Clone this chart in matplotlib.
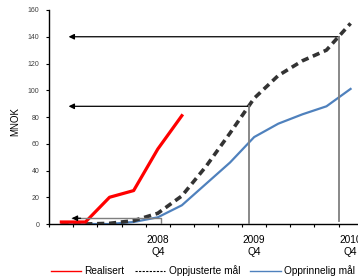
import matplotlib
matplotlib.use('Agg')
from matplotlib import pyplot as plt
from matplotlib.lines import Line2D

plt.rcParams['font.family'] = ['Liberation Sans', 'DejaVu Sans']

# === DATI ===
# quarters from 2007 Q4 to 2010 Q4 (one category per quarter)
quarters = ['2007 Q4', '2008 Q1', '2008 Q2', '2008 Q3', '2008 Q4', '2009 Q1', '2009 Q2',
            '2009 Q3', '2009 Q4', '2010 Q1', '2010 Q2', '2010 Q3', '2010 Q4']
realisert = [1.5, 1.5, 20, 25, 56, 81]
oppjustert = [0, 0, 0.5, 2.5, 8, 21, 43, 68, 94, 111, 122, 130, 150]
opprinnelig = [0, 0, 0, 1.5, 5, 14, 30, 46, 65, 75, 82, 88, 101]
tick_labels = ['2008\nQ4', '2009\nQ4', '2010\nQ4']
tick_quarters = ['2008 Q4', '2009 Q4', '2010 Q4']
legend_labels = ['Realisert', 'Oppjusterte mål', 'Opprinnelig mål']

red = '#FF0000'
blue = '#4F81BD'
dark = '#333333'

fig = plt.figure(figsize=(3.58, 2.77), dpi=100)
ax = fig.add_axes([0.1377, 0.1913, 0.8752, 0.7726])

x_all = [i + 0.5 for i in range(len(quarters))]
ax.plot(x_all[:len(realisert)], realisert, color=red, lw=2.3, solid_joinstyle='round', zorder=4)
ax.plot(x_all, oppjustert, color=dark, lw=2.6, ls=(0, (2.0, 1.3)), zorder=3)
ax.plot(x_all, opprinnelig, color=blue, lw=1.6, zorder=2)

# === ANNOTAZIONI (target raggiunti) ===
arrow = dict(arrowstyle='-|>', mutation_scale=8, lw=0.9, color='black', shrinkA=0, shrinkB=0)
ax.annotate('', xy=(0.8, 140), xytext=(12.03, 140), arrowprops=arrow, zorder=5)
ax.plot([12.03, 12.03], [140, 2.5], color='#7f7f7f', lw=1.3, zorder=5)
ax.annotate('', xy=(0.8, 88), xytext=(8.29, 88), arrowprops=arrow, zorder=5)
ax.plot([8.29, 8.29], [88, 0], color='#7f7f7f', lw=1.3, zorder=5)
ax.plot([0.95, 4.63, 4.63], [4.3, 4.3, 0], color='#7f7f7f', lw=1.0, zorder=5)
ax.annotate('', xy=(0.93, 4.3), xytext=(1.3, 4.3), arrowprops=arrow, zorder=6)

# === ASSI ===
ax.set_xlim(0, len(quarters))
ax.set_ylim(0, 160)
ax.set_yticks(range(0, 161, 20))
ax.set_xticks(range(0, len(quarters) + 1))
ax.set_xticklabels([])
ax.set_xticks([quarters.index(q) + 0.5 for q in tick_quarters], minor=True)
ax.set_xticklabels(tick_labels, minor=True)
ax.tick_params(axis='x', which='minor', length=0, labelsize=7.3, pad=8, colors='black')
ax.tick_params(axis='x', which='major', length=2.2, width=0.8, direction='out')
ax.tick_params(axis='y', length=2, width=0.8, labelsize=5, labelcolor='#404040', pad=5)
for s in ['top', 'right']:
    ax.spines[s].set_visible(False)
for s in ['left', 'bottom']:
    ax.spines[s].set_linewidth(1.0)

fig.text(15.7 / 358, 1 - 121 / 277, 'MNOK', rotation=90, ha='center', va='center', fontsize=7)

handles = [Line2D([], [], color=red, lw=1.0),
           Line2D([], [], color='black', lw=0.8, ls=(0, (2, 1.2))),
           Line2D([], [], color=blue, lw=1.0)]
fig.legend(handles, legend_labels, loc='center', bbox_to_anchor=(0.567, 0.022), ncol=3,
           frameon=False, fontsize=7.3, handlelength=3.0, handletextpad=0.35,
           columnspacing=1.0, borderpad=0)

plt.savefig('out.png', dpi=100)
plt.close()
